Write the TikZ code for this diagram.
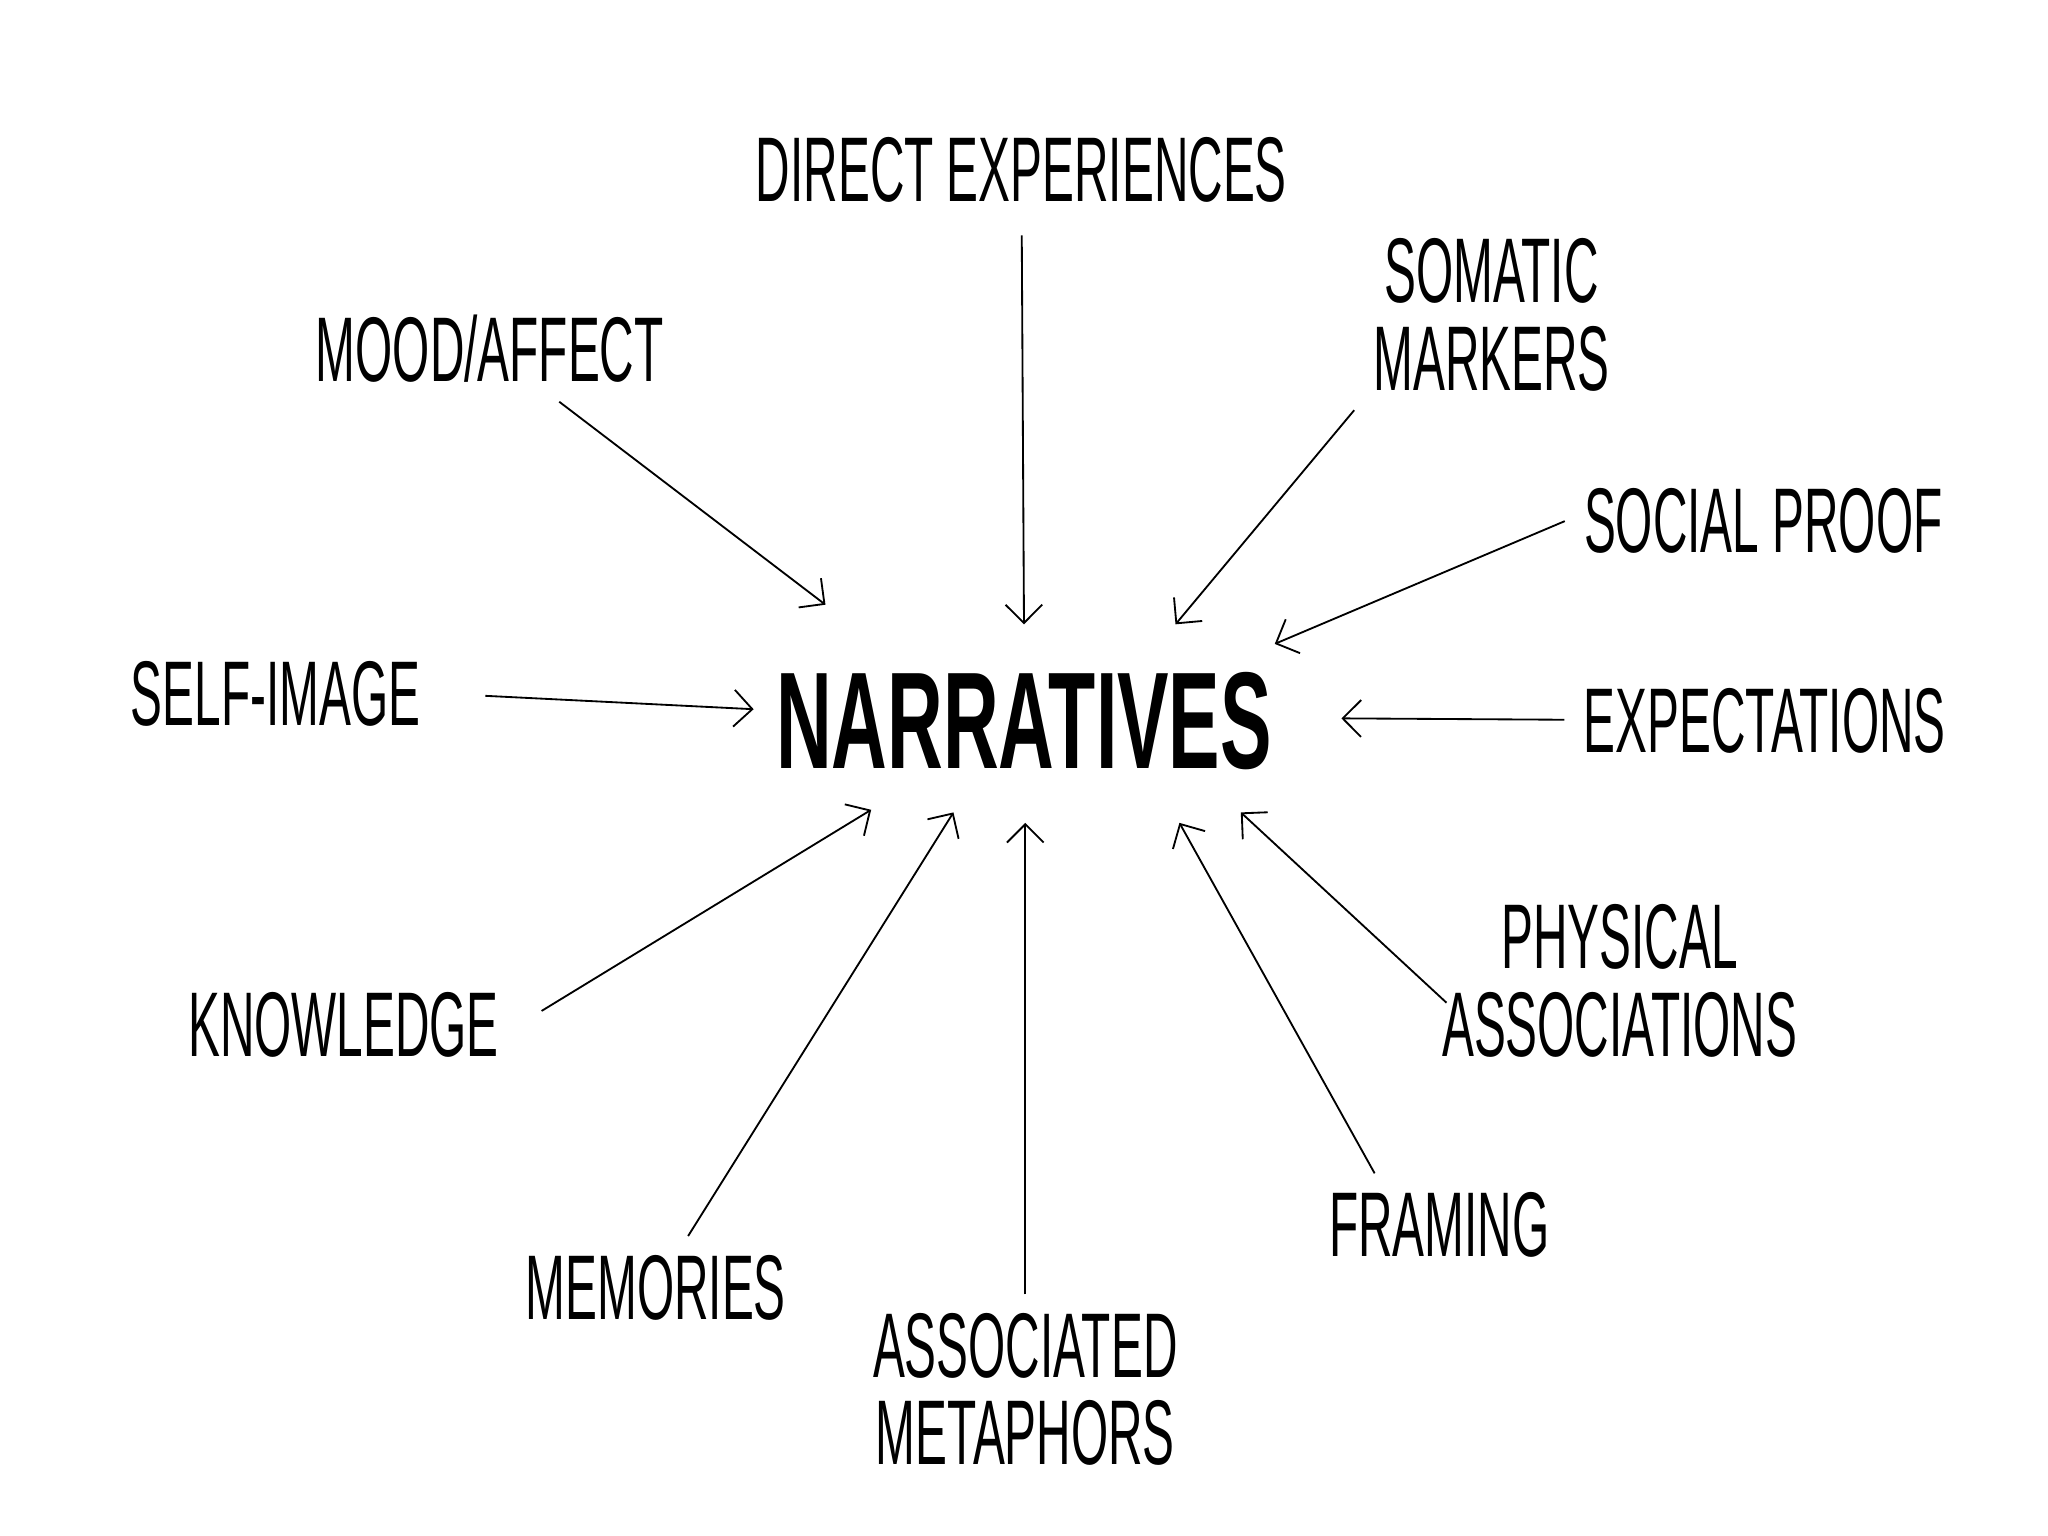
\documentclass[tikz,border=0pt]{standalone}
\usepackage{fontspec}
\usetikzlibrary{arrows.meta, calc}
\newfontfamily\handfont[FakeStretch=0.52]{Liberation Sans}
\newfontfamily\corefont[FakeStretch=0.56]{Liberation Sans}
\tikzset{
->, % every connector points at the centre word
>={Straight Barb[length=4pt,width=8pt]}, % thin open heads, like the sketch
line width=0.6pt, % pen width of the connectors
idea/.style={font=\handfont\fontsize{20}{19}\selectfont, align=center, inner sep=4pt}, % the outer words
core/.style={font=\corefont\bfseries\fontsize{30}{30}\selectfont}, % the centre word
}

\begin{document}
\begin{tikzpicture}[x=0.01cm, y=-0.01cm]
    \useasboundingbox (0,0) rectangle (1568,1176);
    \node[core] (narr) at (784,552) {NARRATIVES};

    \node[idea] (dir)  at (782,130)  {DIRECT EXPERIENCES};
    \node[idea] (som)  at (1142,241) {SOMATIC\\MARKERS};
    \node[idea] (mood) at (375,267)  {MOOD/AFFECT};
    \node[idea] (soc)  at (1350,399) {SOCIAL PROOF};
    \node[idea] (self) at (211,531)  {SELF-IMAGE};
    \node[idea] (expt) at (1351,552) {EXPECTATIONS};
    \node[idea] (phys) at (1240,751) {PHYSICAL\\ASSOCIATIONS};
    \node[idea] (know) at (263,785)  {KNOWLEDGE};
    \node[idea] (fram) at (1102,938) {FRAMING};
    \node[idea] (mem)  at (502,986)  {MEMORIES};
    \node[idea] (meta) at (785,1064) {ASSOCIATED\\METAPHORS};

    % where the heads stop round the centre word
    \coordinate (tDir)  at (784,478);
    \coordinate (tMood) at (632,463);
    \coordinate (tSom)  at (900,478);
    \coordinate (tSoc)  at (976,493);
    \coordinate (tSelf) at (577,543);
    \coordinate (tExpt) at (1027,550);
    \coordinate (tKnow) at (667,620);
    \coordinate (tMem)  at (730,622);
    \coordinate (tMeta) at (785,630);
    \coordinate (tFram) at (903,630);
    \coordinate (tPhys) at (950,622);

    \draw[shorten <=3pt] (dir) -- (tDir);
    \draw (mood) -- (tMood);
    \draw (som.south west) -- (tSom);
    \draw (soc.west) -- (tSoc);
    \draw[shorten <=10pt] (self.east) -- (tSelf);
    \draw (expt) -- (tExpt);
    \draw[shorten <=6pt] (know.east) -- (tKnow);
    \draw (mem) -- (tMem);
    \draw (meta.north) -- (tMeta);
    \draw ($(fram.north)!0.5!(fram.north west)$) -- (tFram);
    \draw[shorten <=-7pt] (phys.west) -- (tPhys);
\end{tikzpicture}
\end{document}
